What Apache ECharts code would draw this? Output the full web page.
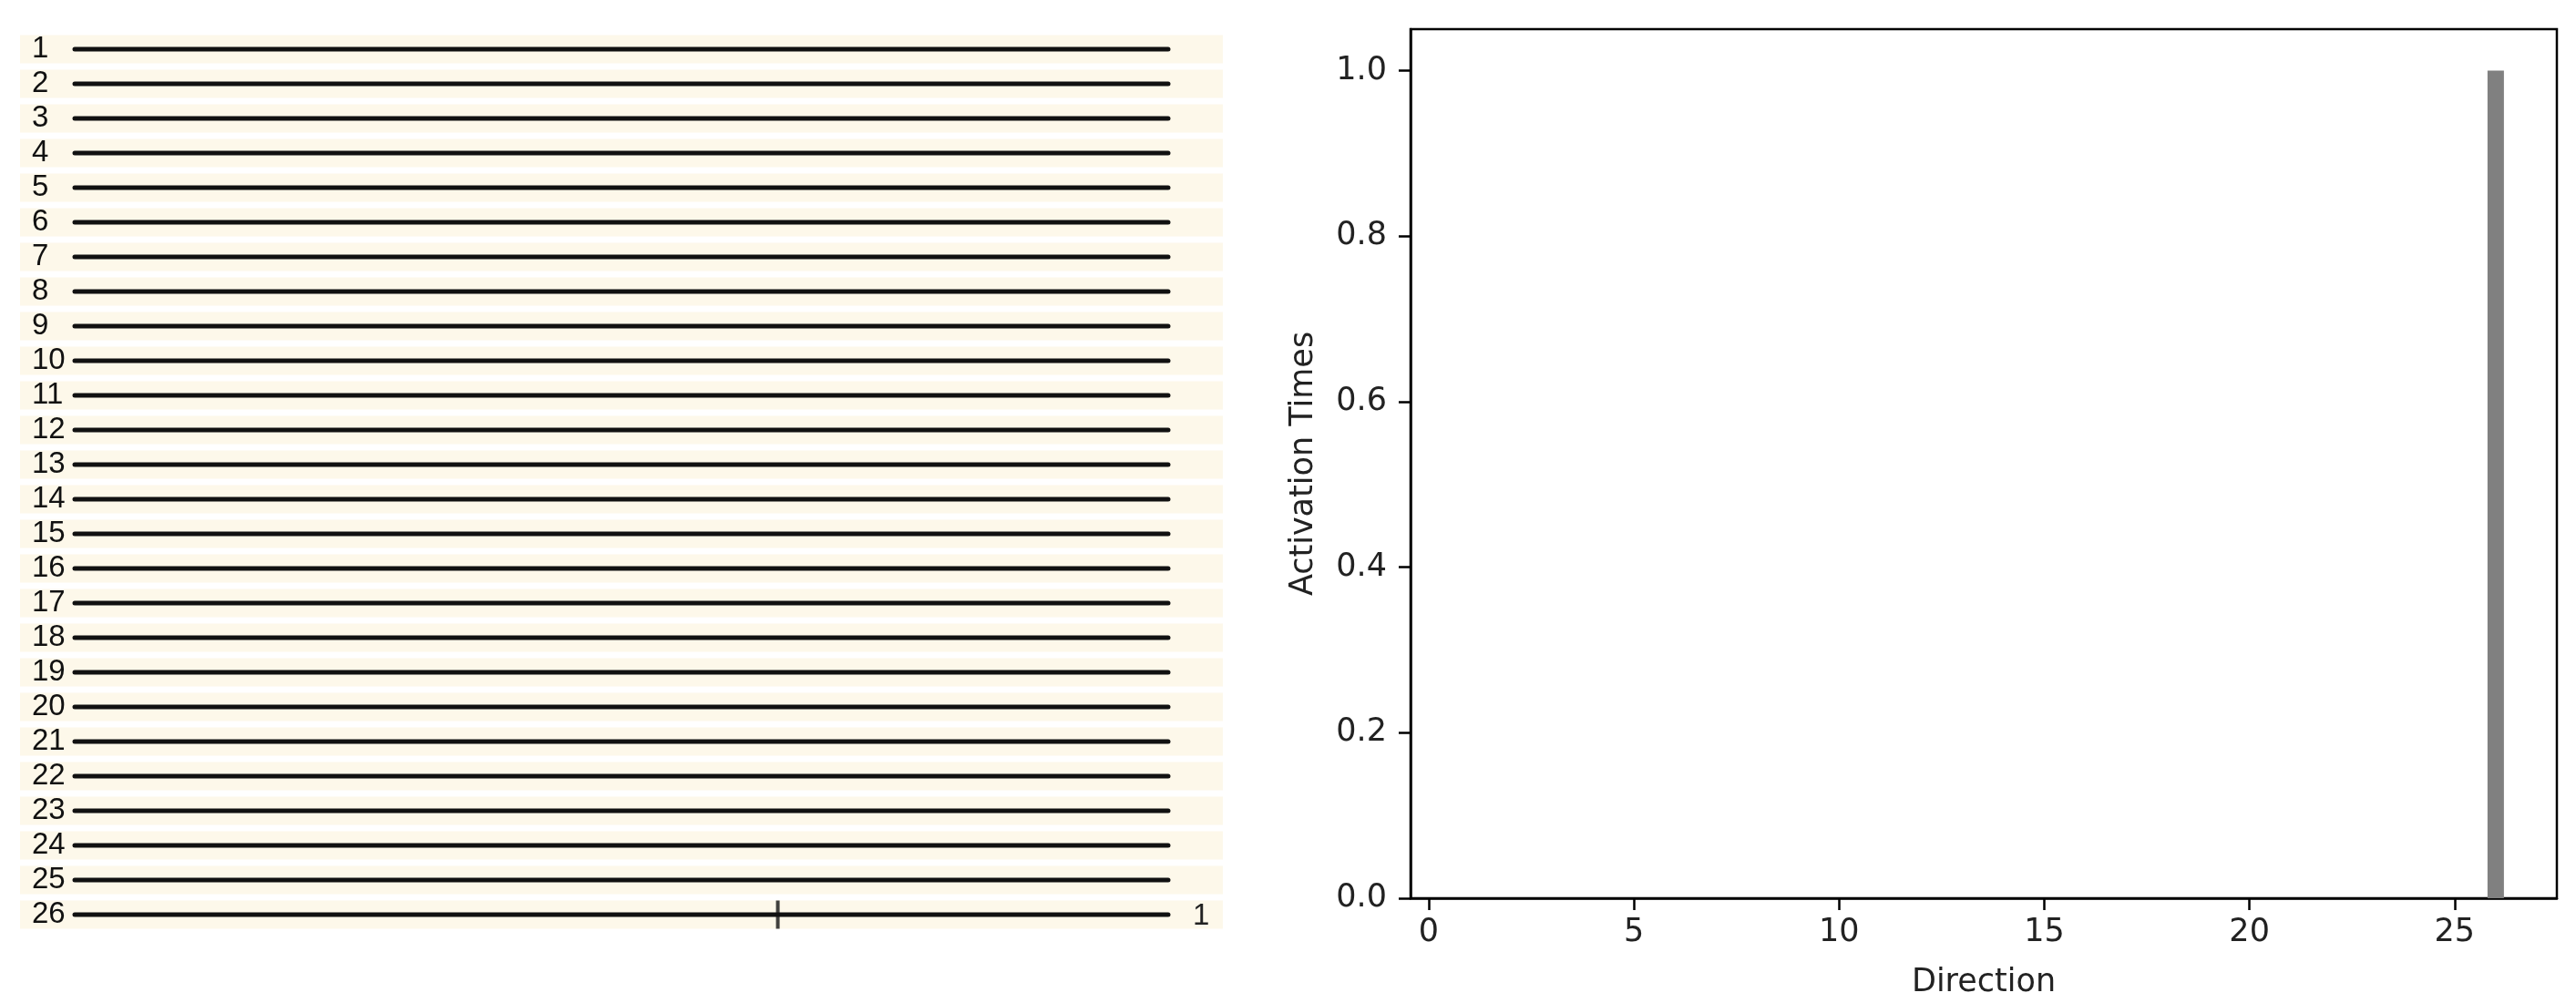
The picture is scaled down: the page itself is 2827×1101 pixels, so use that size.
<!DOCTYPE html>
<html>
<head>
<meta charset="utf-8">
<script src="https://cdn.jsdelivr.net/npm/echarts@6/dist/echarts.min.js"></script>
<style>
  html, body { margin: 0; padding: 0; background: #fff; }
  #chart { width: 2827px; height: 1101px; }
</style>
</head>
<body>
<div id="chart"></div>
<script>
// raster rows (left panel)
const rowLabels = ['1','2','3','4','5','6','7','8','9','10','11','12','13','14','15','16','17','18','19','20','21','22','23','24','25','26'];
const trialStart = 0;
const trialEnd = 1;
// spike times per row, only row 26 fired
const spikeRows = [25];
const spikeTimes = [0.643];

// histogram (right panel)
const directions = [0,1,2,3,4,5,6,7,8,9,10,11,12,13,14,15,16,17,18,19,20,21,22,23,24,25,26];
const activationCounts = [0,0,0,0,0,0,0,0,0,0,0,0,0,0,0,0,0,0,0,0,0,0,0,0,0,0,1];
const xTicks = [0, 5, 10, 15, 20, 25];
const yTicks = [0, 0.2, 0.4, 0.6, 0.8, 1.0];

const rasterMin = -0.05, rasterMax = 1.05;
const mplFont = 'DejaVu Sans';

let spikeCount = rowLabels.map(() => 0);
spikeRows.forEach(r => { spikeCount[r] += 1; });

let rowData = rowLabels.map((l, i) => [trialStart, i, spikeCount[i]]);
let spikeData = spikeRows.map((r, i) => [spikeTimes[i], r]);
let barData = directions.map((d, i) => [d, activationCounts[i]]);

let chart = echarts.init(document.getElementById('chart'));
chart.setOption({
    animation: false,
    backgroundColor: '#fff',
    grid: [
        { left: 22, width: 1320, top: 35, bottom: 78 },
        { left: 1548, right: 21, top: 32, bottom: 114, show: true,
          borderColor: '#000', borderWidth: 2.5, backgroundColor: 'transparent' }
    ],
    xAxis: [
        {
            gridIndex: 0, type: 'value', min: rasterMin, max: rasterMax, show: false
        },
        {
            gridIndex: 1, type: 'value', min: -0.44, max: 27.49,
            name: 'Direction', nameLocation: 'middle', nameGap: 75,
            nameTextStyle: { fontFamily: mplFont, fontSize: 35, color: '#222' },
            axisLine: { show: true, onZero: false, lineStyle: { color: '#000', width: 2.5 } },
            axisTick: { show: true, length: 13, lineStyle: { color: '#000', width: 2.5 }, customValues: xTicks },
            axisLabel: { fontFamily: mplFont, fontSize: 35, color: '#222', margin: 20, customValues: xTicks },
            splitLine: { show: false }
        }
    ],
    yAxis: [
        {
            gridIndex: 0, type: 'category', data: rowLabels, inverse: true, z: 5,
            axisLine: { show: false }, axisTick: { show: false }, splitLine: { show: false },
            axisLabel: { inside: true, interval: 0, margin: 13, fontFamily: 'Liberation Sans',
                         fontSize: 33, color: '#111' }
        },
        {
            gridIndex: 1, type: 'value', min: 0, max: 1.05,
            name: 'Activation Times', nameLocation: 'middle', nameGap: 100,
            nameTextStyle: { fontFamily: mplFont, fontSize: 35, color: '#222' },
            axisLine: { show: true, onZero: false, lineStyle: { color: '#000', width: 2.5 } },
            axisTick: { show: true, length: 13, lineStyle: { color: '#000', width: 2.5 }, customValues: yTicks },
            axisLabel: { fontFamily: mplFont, fontSize: 35, color: '#222', margin: 26,
                         customValues: yTicks, formatter: v => v.toFixed(1) },
            splitLine: { show: false }
        }
    ],
    series: [
        {
            // cream band + black line for every row, count at the right end
            type: 'custom',
            xAxisIndex: 0, yAxisIndex: 0, z: 1,
            encode: { x: 0, y: 1 },
            data: rowData,
            renderItem: function (params, api) {
                let row = api.value(1);
                let bl = api.coord([rasterMin, row]);
                let br = api.coord([rasterMax, row]);
                let a = api.coord([trialStart, row]);
                let b = api.coord([trialEnd, row]);
                let h = api.size([0, 1])[1] * 0.82;
                let cnt = api.value(2);
                let children = [
                    { type: 'rect', shape: { x: bl[0], y: bl[1] - h / 2, width: br[0] - bl[0], height: h },
                      style: { fill: '#fdf8ea' } },
                    { type: 'line', shape: { x1: a[0], y1: a[1], x2: b[0], y2: b[1] },
                      style: { stroke: '#111', lineWidth: 5, lineCap: 'round' } }
                ];
                if (cnt > 0) {
                    children.push({ type: 'text', x: b[0] + 27, y: b[1] + 2,
                        style: { text: String(cnt), fontFamily: 'Liberation Sans', fontSize: 33,
                                 fill: '#222', verticalAlign: 'middle', align: 'left' } });
                }
                return { type: 'group', children: children };
            }
        },
        {
            type: 'scatter',
            xAxisIndex: 0, yAxisIndex: 0, z: 3,
            symbol: 'rect', symbolSize: [4, 31],
            itemStyle: { color: '#111' },
            data: spikeData
        },
        {
            type: 'bar',
            xAxisIndex: 1, yAxisIndex: 1,
            barWidth: 18,
            itemStyle: { color: '#808080' },
            data: barData
        }
    ]
});
</script>
</body>
</html>
